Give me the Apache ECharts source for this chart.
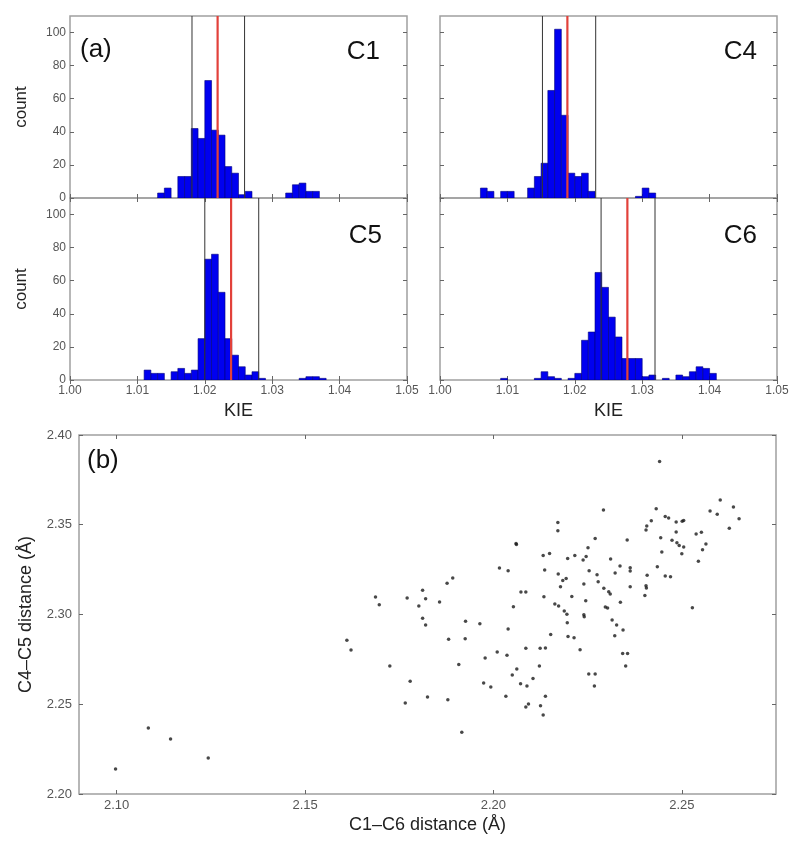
<!DOCTYPE html>
<html>
<head>
<meta charset="utf-8">
<script src="https://cdn.jsdelivr.net/npm/echarts@6/dist/echarts.min.js"></script>
<style>
html,body{margin:0;padding:0;background:#fff;}
#chart{width:800px;height:844px;}
</style>
</head>
<body>
<div id="chart"></div>
<script>
// ---------- DATA ----------
// Histogram bins (bin start, width 0.001) and counts, per carbon
const c1Bins   = [1.013,1.014,1.016,1.017,1.018,1.019,1.020,1.021,1.022,1.023,1.024,1.025,1.026,1.032,1.033,1.034,1.035,1.036];
const c1Counts = [3,6,13,13,42,36,71,41,38,19,15,2,4,3,8,9,4,4];

const c4Bins   = [1.006,1.007,1.009,1.010,1.013,1.014,1.015,1.016,1.017,1.018,1.019,1.020,1.021,1.022,1.029,1.030,1.031];
const c4Counts = [6,4,4,4,6,13,21,65,102,50,15,13,15,4,1,6,3];

const c5Bins   = [1.011,1.012,1.013,1.015,1.016,1.017,1.018,1.019,1.020,1.021,1.022,1.023,1.024,1.025,1.026,1.027,1.028,1.034,1.035,1.036,1.037];
const c5Counts = [6,4,4,5,7,4,6,25,73,76,53,25,15,8,3,5,1,1,2,2,1];

const c6Bins   = [1.009,1.014,1.015,1.016,1.017,1.019,1.020,1.021,1.022,1.023,1.024,1.025,1.026,1.027,1.028,1.029,1.030,1.031,1.033,1.035,1.036,1.037,1.038,1.039,1.040];
const c6Counts = [1,1,5,2,1,1,4,24,29,65,56,38,26,13,13,13,2,3,1,3,2,5,8,7,4];

// Vertical reference lines [lower, upper] (black) and mean (red)
const c1Bounds = [1.0181, 1.0259]; const c1Mean = 1.0219;
const c4Bounds = [1.0152, 1.0231]; const c4Mean = 1.0189;
const c5Bounds = [1.0200, 1.0280]; const c5Mean = 1.0239;
const c6Bounds = [1.0239, 1.0319]; const c6Mean = 1.0278;

const panelLabels = ['C1','C4','C5','C6'];
const histXTicks = [1.00,1.01,1.02,1.03,1.04,1.05];
const histYTicks = [0,20,40,60,80,100];
const binWidth = 0.001;

// Scatter: C1–C6 distance (x) vs C4–C5 distance (y)
const scatterX = [2.0997,2.1084,2.1143,2.1243,2.1611,2.1622,2.1687,2.1697,2.1725,
2.2441,2.2292,2.2432,2.2602,2.2637,2.2652,2.2575,2.2594,2.2626,2.2456,2.2465,2.2419,2.2407,2.2405,2.2485,2.2501,2.2505,2.2485,2.2538,2.2552,
2.2444,2.2474,2.2487,2.2493,2.2505,2.2500,2.2564,2.2555,2.2544,2.2447,2.2435,2.2456,2.2470,2.2528,2.2355,2.2270,2.2251,2.2246,2.2238,2.2216,
2.2197,2.2171,2.2171,2.2060,2.2061,2.2132,2.2149,2.2136,2.2172,2.2184,2.2193,2.2178,2.2134,2.2163,2.2173,2.2188,2.2195,2.2208,2.2196,2.2198,
2.2214,2.2230,2.2152,2.2138,2.2124,2.2122,2.2105,2.2086,2.2073,2.2086,2.2053,2.2039,2.2016,2.2039,2.2010,2.2036,2.1978,2.1964,2.1926,2.1925,
2.1881,2.1908,2.2062,2.2050,2.2072,2.2089,2.1974,2.1993,2.2033,2.2093,2.2086,2.2125,2.2138,2.2132,2.1916,2.1879,2.1825,2.1766,2.1779,
2.1877,2.1892,2.1812,2.1820,2.1771,2.1802,2.1857,2.1812,2.1820,2.2253,2.2270,2.2268,2.2343,2.2356,2.2351,2.2322,2.2344,2.2327,2.2315,
2.2297,2.2303,2.2337,2.2240,2.2241,2.2245,2.2240,2.2254,2.2275,2.2278,2.2293,2.2306,2.2310,2.2311,2.2323,2.2336,2.2363,2.2363,2.2363,
2.2405,2.2406,2.2402,2.2408];
const scatterY = [2.2139,2.2368,2.2306,2.2201,2.2856,2.2802,2.3097,2.3054,2.2713,
2.3853,2.3582,2.3589,2.3638,2.3599,2.3533,2.3576,2.3558,2.3480,2.3546,2.3537,2.3522,2.3493,2.3471,2.3515,2.3519,2.3524,2.3459,2.3448,2.3458,
2.3428,2.3413,2.3400,2.3385,2.3376,2.3338,2.3393,2.3361,2.3296,2.3348,2.3266,2.3214,2.3210,2.3038,2.3415,2.3424,2.3372,2.3323,2.3303,2.3329,
2.3312,2.3513,2.3466,2.3396,2.3390,2.3329,2.3340,2.3248,2.3226,2.3190,2.3201,2.3154,2.3099,2.3059,2.3048,2.3019,2.3001,2.3100,2.2954,2.2877,
2.2871,2.2803,2.2888,2.2813,2.2812,2.2713,2.2644,2.2812,2.3125,2.3125,2.3043,2.3244,2.3259,2.2919,2.2791,2.2773,2.2758,2.2948,2.2962,2.2865,
2.2862,2.2722,2.2696,2.2663,2.2614,2.2602,2.2618,2.2596,2.2544,2.2501,2.2485,2.2492,2.2544,2.2440,2.2344,2.2525,2.2540,2.2507,2.2628,
2.3174,2.3203,2.3135,2.3088,2.3092,2.3048,2.3070,2.2979,2.2941,2.2669,2.2669,2.2602,2.2783,2.2783,2.2713,2.2881,2.2913,2.2941,2.2970,
2.3042,2.3036,2.3068,2.2998,2.2987,2.3076,2.3170,2.3244,2.3222,2.3183,2.3146,2.3127,2.3114,2.3309,2.3231,2.3270,2.3260,2.3242,2.3155,
2.3160,2.3147,2.3106,2.3218];
const scatterXTicks = [2.10,2.15,2.20,2.25];
const scatterYTicks = [2.20,2.25,2.30,2.35,2.40];

// ---------- CHART ----------
const FONT = 'Liberation Sans, Arial, Helvetica, sans-serif';
const FRAME = '#a0a0a0';
const LABEL = '#555';
const HIST_MAX = 110;

const panels = [
  {bins:c1Bins, counts:c1Counts, bounds:c1Bounds, mean:c1Mean, grid:{left:70, top:16, width:337, height:182}, showX:false, showY:true},
  {bins:c4Bins, counts:c4Counts, bounds:c4Bounds, mean:c4Mean, grid:{left:440, top:16, width:337, height:182}, showX:false, showY:false},
  {bins:c5Bins, counts:c5Counts, bounds:c5Bounds, mean:c5Mean, grid:{left:70, top:198, width:337, height:182}, showX:true, showY:true},
  {bins:c6Bins, counts:c6Counts, bounds:c6Bounds, mean:c6Mean, grid:{left:440, top:198, width:337, height:182}, showX:true, showY:false}
];

const grids = [], xAxes = [], yAxes = [], series = [];

function tickCfg(vals){ return {show:true, inside:true, length:4, customValues:vals, lineStyle:{color:'#666', width:1}}; }

panels.forEach((p, i) => {
  grids.push(Object.assign({show:true, borderColor:FRAME, borderWidth:1.5, backgroundColor:'transparent'}, p.grid));
  xAxes.push({
    type:'value', gridIndex:i, min:1.00, max:1.05, position:'bottom',
    axisLine:{show:false}, splitLine:{show:false},
    axisTick:tickCfg(histXTicks),
    axisLabel:{show:p.showX, customValues:histXTicks, formatter:v=>v.toFixed(2), color:LABEL, fontSize:12, fontFamily:FONT, margin:5, hideOverlap:false},
    name:p.showX?'KIE':'', nameLocation:'middle', nameGap:22,
    nameTextStyle:{fontSize:18, fontFamily:FONT, color:'#222'}
  });
  xAxes.push({
    type:'value', gridIndex:i, min:1.00, max:1.05, position:'top',
    axisLine:{show:false}, splitLine:{show:false},
    axisTick:tickCfg(histXTicks), axisLabel:{show:false}
  });
  yAxes.push({
    type:'value', gridIndex:i, min:0, max:HIST_MAX, position:'left',
    axisLine:{show:false}, splitLine:{show:false},
    axisTick:tickCfg(histYTicks),
    axisLabel:{show:p.showY, customValues:histYTicks, color:LABEL, fontSize:12, fontFamily:FONT, margin:4},
    name:p.showY?'count':'', nameLocation:'middle', nameGap:40, nameRotate:90,
    nameTextStyle:{fontSize:17, fontFamily:FONT, color:'#222'}
  });
  yAxes.push({
    type:'value', gridIndex:i, min:0, max:HIST_MAX, position:'right',
    axisLine:{show:false}, splitLine:{show:false},
    axisTick:tickCfg(histYTicks), axisLabel:{show:false}
  });
  const data = p.bins.map((b, k) => [b, p.counts[k]]);
  series.push({
    type:'custom', xAxisIndex:2*i, yAxisIndex:2*i, data:data, clip:true,
    encode:{x:0, y:1},
    renderItem:function(params, api){
      const x0 = api.value(0), c = api.value(1);
      const pTop = api.coord([x0, c]);
      const pBot = api.coord([x0 + binWidth, 0]);
      return {type:'rect', shape:{x:pTop[0], y:pTop[1], width:pBot[0]-pTop[0], height:pBot[1]-pTop[1]},
              style:{fill:'#0000f0', stroke:'#00007a', lineWidth:0.6}};
    },
    z:2
  });
  // vertical lines: value, kind (0 = bound, 1 = mean)
  const lineData = [[p.bounds[0], 0], [p.bounds[1], 0], [p.mean, 1]];
  series.push({
    type:'custom', xAxisIndex:2*i, yAxisIndex:2*i, data:lineData, z:3,
    encode:{x:0},
    renderItem:function(params, api){
      const xv = api.value(0), kind = api.value(1);
      const a = api.coord([xv, 0]);
      const b = api.coord([xv, HIST_MAX]);
      return {type:'line', shape:{x1:a[0], y1:a[1], x2:b[0], y2:b[1]},
              style: kind === 1 ? {stroke:'#e2413a', lineWidth:2.2} : {stroke:'#333', lineWidth:1}};
    }
  });
});

// scatter panel
grids.push({show:true, borderColor:FRAME, borderWidth:1.5, backgroundColor:'transparent', left:79, top:435, width:697, height:359});
xAxes.push({
  type:'value', gridIndex:4, min:2.09, max:2.275, position:'bottom',
  axisLine:{show:false}, splitLine:{show:false},
  axisTick:tickCfg(scatterXTicks),
  axisLabel:{customValues:scatterXTicks, formatter:v=>v.toFixed(2), color:LABEL, fontSize:13, fontFamily:FONT, margin:5},
  name:'C1–C6 distance (Å)', nameLocation:'middle', nameGap:22,
  nameTextStyle:{fontSize:18, fontFamily:FONT, color:'#222'}
});
xAxes.push({
  type:'value', gridIndex:4, min:2.09, max:2.275, position:'top',
  axisLine:{show:false}, splitLine:{show:false},
  axisTick:tickCfg(scatterXTicks), axisLabel:{show:false}
});
yAxes.push({
  type:'value', gridIndex:4, min:2.20, max:2.40, position:'left',
  axisLine:{show:false}, splitLine:{show:false},
  axisTick:tickCfg(scatterYTicks),
  axisLabel:{customValues:scatterYTicks, formatter:v=>v.toFixed(2), color:LABEL, fontSize:13, fontFamily:FONT, margin:7},
  name:'C4–C5 distance (Å)', nameLocation:'middle', nameGap:44, nameRotate:90,
  nameTextStyle:{fontSize:18, fontFamily:FONT, color:'#222'}
});
yAxes.push({
  type:'value', gridIndex:4, min:2.20, max:2.40, position:'right',
  axisLine:{show:false}, splitLine:{show:false},
  axisTick:tickCfg(scatterYTicks), axisLabel:{show:false}
});
series.push({
  type:'scatter', xAxisIndex:8, yAxisIndex:8,
  data:scatterX.map((x, k) => [x, scatterY[k]]),
  symbol:'circle', symbolSize:3.5, itemStyle:{color:'#1a1a1a'}, z:3
});

function txt(t, x, y, size, align){
  return {type:'text', x:x, y:y, z:100, style:{text:t, font:size+'px '+FONT, fill:'#111',
          align:align||'left', textAlign:align||'left', verticalAlign:'middle', textVerticalAlign:'middle'}};
}
const graphics = [
  txt('(a)', 80, 50, 26),
  txt(panelLabels[0], 380, 52, 26, 'right'),
  txt(panelLabels[1], 757, 52, 26, 'right'),
  txt(panelLabels[2], 382, 236, 26, 'right'),
  txt(panelLabels[3], 757, 236, 26, 'right'),
  txt('(b)', 87, 461, 26)
];

const chart = echarts.init(document.getElementById('chart'), null, {renderer:'canvas'});
chart.setOption({
  animation:false,
  backgroundColor:'#fff',
  grid:grids, xAxis:xAxes, yAxis:yAxes, series:series, graphic:graphics
});
</script>
</body>
</html>
